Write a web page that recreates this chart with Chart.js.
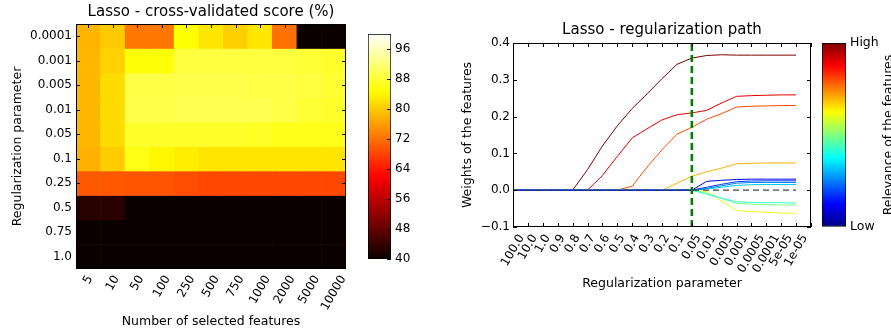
<!DOCTYPE html>
<html>
<head>
<meta charset="utf-8">
<script src="https://cdn.jsdelivr.net/npm/chart.js@4.4.0/dist/chart.umd.min.js"></script>
<style>
  body { margin: 0; background: #fff; }
  #wrap { position: relative; width: 891px; height: 330px; overflow: hidden; }
  #wrap canvas { position: absolute; top: 0; }
</style>
</head>
<body>
<div id="wrap">
  <canvas id="heat" width="350" height="330" style="left:0"></canvas>
  <canvas id="heatBar" width="60" height="330" style="left:360px"></canvas>
  <canvas id="path" width="375" height="330" style="left:440px"></canvas>
  <canvas id="pathBar" width="76" height="330" style="left:815px"></canvas>
</div>
<script>
// left panel: cross-validated score, one array per regularization row
var featureCounts = ['5', '10', '50', '100', '250', '500', '750', '1000', '2000', '5000', '10000'];
var regParams = ['0.0001', '0.001', '0.005', '0.01', '0.05', '0.1', '0.25', '0.5', '0.75', '1.0'];
var scoreAt00001 = [78, 80, 72.5, 72.5, 85, 82.5, 80.5, 82.5, 72, 40, 40];
var scoreAt0001 = [78.3, 80.6, 85.2, 85.2, 88.5, 88.5, 88.5, 88.5, 88.5, 88, 87.5];
var scoreAt0005 = [78.3, 81.6, 89, 89, 89.3, 89.3, 89.3, 89, 89, 88.5, 87.8];
var scoreAt001 = [78.3, 81.6, 89.2, 89.2, 89.5, 89.5, 89.5, 89.5, 89, 88, 87.5];
var scoreAt005 = [78.3, 81.6, 87.2, 87.2, 87.2, 87.2, 87.2, 87, 86.3, 86.3, 86.3];
var scoreAt01 = [77.7, 80.2, 86, 84.1, 83.2, 82.4, 82.4, 82.4, 82.4, 82.4, 82.4];
var scoreAt025 = [69.9, 69.8, 69.5, 69.5, 68.8, 68.3, 68.3, 68.3, 68.3, 68.3, 68.3];
var scoreAt05 = [42.6, 42.6, 40, 40, 40, 40, 40, 40, 40, 40, 40];
var scoreAt075 = [40, 40, 40, 40, 40, 40, 40, 40, 40, 40, 40];
var scoreAt1 = [40, 40, 40, 40, 40, 40, 40, 40, 40, 40, 40];
var scoreRows = [scoreAt00001, scoreAt0001, scoreAt0005, scoreAt001, scoreAt005,
                 scoreAt01, scoreAt025, scoreAt05, scoreAt075, scoreAt1];
var scoreRange = [40, 100];
var scoreTicks = [40, 48, 56, 64, 72, 80, 88, 96];

// right panel: regularization path
var pathLabels = ['100.0', '10.0', '1.0', '0.9', '0.8', '0.7', '0.6', '0.5', '0.4', '0.3',
                  '0.2', '0.1', '0.05', '0.01', '0.005', '0.001', '0.0005', '0.0001', '5e-05', '1e-05'];
var chosenParam = '0.05';
var weightTicks = [-0.1, 0.0, 0.1, 0.2, 0.3, 0.4];
var blueA  = [0, 0, 0, 0, 0, 0, 0, 0, 0, 0, 0, 0, 0, 0.024, 0.027, 0.029, 0.030, 0.030, 0.030, 0.030];
var blueB  = [0, 0, 0, 0, 0, 0, 0, 0, 0, 0, 0, 0, 0, 0.008, 0.016, 0.023, 0.025, 0.0255, 0.0255, 0.0255];
var blueC  = [0, 0, 0, 0, 0, 0, 0, 0, 0, 0, 0, 0, 0, 0.005, 0.012, 0.019, 0.021, 0.021, 0.021, 0.021];
var blueD  = [0, 0, 0, 0, 0, 0, 0, 0, 0, 0, 0, 0, 0, 0.003, 0.008, 0.013, 0.015, 0.0155, 0.0155, 0.0155];
var greenA = [0, 0, 0, 0, 0, 0, 0, 0, 0, 0, 0, 0, 0, -0.011, -0.022, -0.032, -0.033, -0.034, -0.034, -0.035];
var greenB = [0, 0, 0, 0, 0, 0, 0, 0, 0, 0, 0, 0, 0, -0.008, -0.022, -0.036, -0.038, -0.039, -0.040, -0.040];
var yellow = [0, 0, 0, 0, 0, 0, 0, 0, 0, 0, 0, 0, 0, -0.004, -0.030, -0.055, -0.058, -0.060, -0.062, -0.063];
var orange = [0, 0, 0, 0, 0, 0, 0, 0, 0, 0, 0, 0.019, 0.038, 0.050, 0.060, 0.072, 0.073, 0.074, 0.074, 0.074];
var orangeRed = [0, 0, 0, 0, 0, 0, 0, 0, 0.011, 0.063, 0.110, 0.152, 0.171, 0.193, 0.208, 0.226, 0.228, 0.229, 0.230, 0.230];
var red    = [0, 0, 0, 0, 0, 0, 0.040, 0.092, 0.142, 0.167, 0.191, 0.205, 0.210, 0.217, 0.237, 0.255, 0.257, 0.258, 0.259, 0.259];
var darkRed = [0, 0, 0, 0, 0, 0.056, 0.120, 0.175, 0.222, 0.262, 0.303, 0.342, 0.359, 0.366, 0.368, 0.367, 0.367, 0.367, 0.367, 0.367];
var weightSeries = [blueA, blueB, blueC, blueD, greenA, greenB, yellow, orange, orangeRed, red, darkRed];
var relevance = [0.1, 0.18, 0.25, 0.32, 0.42, 0.5, 0.6, 0.7, 0.8, 0.9, 1.0];
var relevanceTicks = ['Low', 'High'];

Chart.defaults.font.family = '"DejaVu Sans", sans-serif';
Chart.defaults.color = '#000';

function clamp(v) { return Math.max(0, Math.min(1, v)); }
function rgb(r, g, b) {
    return 'rgb(' + Math.round(r * 255) + ',' + Math.round(g * 255) + ',' + Math.round(b * 255) + ')';
}
// matplotlib "hot"
function hot(t) {
    t = clamp(t);
    return rgb(0.0416 + 0.9584 * clamp(t / 0.365), clamp((t - 0.365) / 0.381), clamp((t - 0.746) / 0.254));
}
// matplotlib "jet" (close enough)
function jet(t) {
    return rgb(clamp(1.5 - Math.abs(4 * t - 3)), clamp(1.5 - Math.abs(4 * t - 2)), clamp(1.5 - Math.abs(4 * t - 1)));
}
function scoreColor(v) { return hot((v - scoreRange[0]) / (scoreRange[1] - scoreRange[0])); }

// black frame + small inward ticks on all four sides, like matplotlib
var frameTicks = {
    id: 'frameTicks',
    afterDraw: function(chart) {
        var ctx = chart.ctx, a = chart.chartArea, x = chart.scales.x, y = chart.scales.y;
        ctx.save();
        ctx.strokeStyle = '#000';
        ctx.lineWidth = 1;
        ctx.beginPath();
        x.ticks.forEach(function(t, i) {
            var px = Math.round(x.getPixelForTick(i)) + 0.5;
            ctx.moveTo(px, a.bottom); ctx.lineTo(px, a.bottom - 4);
            ctx.moveTo(px, a.top); ctx.lineTo(px, a.top + 4);
        });
        y.ticks.forEach(function(t, i) {
            var py = Math.round(y.getPixelForTick(i)) + 0.5;
            ctx.moveTo(a.left, py); ctx.lineTo(a.left + 4, py);
            ctx.moveTo(a.right, py); ctx.lineTo(a.right - 4, py);
        });
        ctx.stroke();
        ctx.strokeRect(Math.round(a.left) + 0.5, Math.round(a.top) + 0.5,
                       Math.round(a.width) - 1, Math.round(a.height) - 1);
        ctx.restore();
    }
};

// rotated x labels centred under their tick (matplotlib rotation=60, ha='center')
var centredXLabels = {
    id: 'centredXLabels',
    afterDraw: function(chart, args, opts) {
        var ctx = chart.ctx, s = chart.scales.x, a = chart.chartArea;
        var size = 12, ang = Math.PI / 3;
        ctx.save();
        ctx.font = size + 'px "DejaVu Sans"';
        ctx.fillStyle = '#000';
        ctx.textAlign = 'center';
        ctx.textBaseline = 'middle';
        s.ticks.forEach(function(t, i) {
            if (!t.label) return;
            var w = ctx.measureText(t.label).width;
            var boxH = w * Math.sin(ang) + size * 1.164 * Math.cos(ang);
            ctx.save();
            ctx.translate(s.getPixelForTick(i), a.bottom + opts.pad + boxH / 2);
            ctx.rotate(-ang);
            ctx.fillText(t.label, 0, 0);
            ctx.restore();
        });
        ctx.restore();
    }
};

// colorbar ticks pointing into the bar from its right edge
var barTicks = {
    id: 'barTicks',
    afterDraw: function(chart) {
        var ctx = chart.ctx, a = chart.chartArea, y = chart.scales.y;
        ctx.save();
        ctx.strokeStyle = '#000';
        ctx.beginPath();
        y.ticks.forEach(function(t, i) {
            var py = Math.round(y.getPixelForTick(i)) + 0.5;
            ctx.moveTo(a.right, py); ctx.lineTo(a.right - 4, py);
        });
        ctx.stroke();
        ctx.restore();
    }
};

// pin the axis boxes so the plot areas land where the reference has them
function fixWidth(w) {
    return function(scale) { scale.width = w; scale.paddingTop = 0; scale.paddingBottom = 0; };
}
function fixHeight(h) {
    return function(scale) { scale.height = h; scale.paddingLeft = 0; scale.paddingRight = 0; };
}

// ---- heatmap (floating bars, one dataset per row)
var heatSets = scoreRows.map(function(row, r) {
    return {
        data: row.map(function() { return [r, r + 1]; }),
        backgroundColor: row.map(scoreColor),
        borderWidth: 0,
        grouped: false,
        barPercentage: 1,
        categoryPercentage: 1
    };
});

new Chart(document.getElementById('heat'), {
    type: 'bar',
    data: { labels: featureCounts, datasets: heatSets },
    options: {
        responsive: false,
        animation: false,
        layout: { padding: { left: 0, right: 4, top: 0, bottom: 0 } },
        plugins: {
            legend: { display: false },
            tooltip: { enabled: false },
            title: {
                display: true,
                fullSize: false,
                text: 'Lasso - cross-validated score (%)',
                font: { size: 15, weight: 'normal' },
                padding: { top: 3, bottom: 3 }
            },
            centredXLabels: { pad: 4 }
        },
        scales: {
            x: {
                grid: { display: false, drawTicks: false },
                border: { display: false },
                ticks: { display: false },
                title: { display: true, text: 'Number of selected features', font: { size: 12.5 }, padding: { bottom: 1 } },
                afterFit: fixHeight(61)
            },
            y: {
                min: 0,
                max: regParams.length,
                reverse: true,
                grid: { display: false, drawTicks: false },
                border: { display: false },
                afterBuildTicks: function(scale) {
                    scale.ticks = regParams.map(function(p, i) { return { value: i + 0.5 }; });
                },
                ticks: {
                    font: { size: 12 },
                    padding: 4,
                    callback: function(v, i) { return regParams[i]; }
                },
                title: { display: true, text: 'Regularization parameter', font: { size: 12.5 }, padding: { top: 10.5 } },
                afterFit: fixWidth(76)
            }
        }
    },
    plugins: [frameTicks, centredXLabels]
});

// ---- heatmap colorbar
new Chart(document.getElementById('heatBar'), {
    type: 'bar',
    data: {
        labels: [''],
        datasets: [{
            data: [scoreRange],
            backgroundColor: function(c) {
                var a = c.chart.chartArea;
                if (!a) return '#000';
                var g = c.chart.ctx.createLinearGradient(0, a.bottom, 0, a.top);
                for (var i = 0; i <= 40; i++) g.addColorStop(i / 40, hot(i / 40));
                return g;
            },
            borderColor: '#000',
            borderWidth: 1,
            borderSkipped: false,
            barPercentage: 1,
            categoryPercentage: 1
        }]
    },
    options: {
        responsive: false,
        animation: false,
        layout: { padding: { left: 8, right: 0, top: 34, bottom: 71 } },
        plugins: { legend: { display: false }, tooltip: { enabled: false } },
        scales: {
            x: { display: false },
            y: {
                position: 'right',
                min: scoreRange[0],
                max: scoreRange[1],
                afterBuildTicks: function(scale) {
                    scale.ticks = scoreTicks.map(function(v) { return { value: v }; });
                },
                grid: { drawOnChartArea: false, drawTicks: false },
                border: { display: false },
                ticks: { font: { size: 12 }, padding: 4 },
                afterFit: fixWidth(29)
            }
        }
    },
    plugins: [barTicks]
});

// ---- regularization path
var pathSets = [
    {
        data: [{ x: chosenParam, y: weightTicks[0] }, { x: chosenParam, y: weightTicks[weightTicks.length - 1] }],
        borderColor: '#008000', borderWidth: 2.5, borderDash: [7, 4]
    },
    {
        data: [{ x: pathLabels[0], y: 0 }, { x: pathLabels[pathLabels.length - 1], y: 0 }],
        borderColor: '#444', borderWidth: 1.3, borderDash: [6, 4]
    }
].concat(weightSeries.map(function(s, i) {
    return { data: s, borderColor: jet(relevance[i]), borderWidth: 1 };
}));

new Chart(document.getElementById('path'), {
    type: 'line',
    data: { labels: pathLabels.concat(''), datasets: pathSets },
    options: {
        responsive: false,
        animation: false,
        elements: { point: { radius: 0 }, line: { tension: 0, fill: false } },
        layout: { padding: { left: 0, right: 4, top: 17.5, bottom: 0 } },
        plugins: {
            legend: { display: false },
            tooltip: { enabled: false },
            title: {
                display: true,
                fullSize: false,
                text: 'Lasso - regularization path',
                font: { size: 15, weight: 'normal' },
                padding: { top: 4, bottom: 3.5 }
            },
            centredXLabels: { pad: 5 }
        },
        scales: {
            x: {
                offset: false,
                grid: { display: false, drawTicks: false },
                border: { display: false },
                ticks: { display: false, autoSkip: false },
                title: { display: true, text: 'Regularization parameter', font: { size: 12.5 }, padding: { bottom: 38.5 } },
                afterFit: fixHeight(103)
            },
            y: {
                min: weightTicks[0],
                max: weightTicks[weightTicks.length - 1],
                grid: { display: false, drawTicks: false },
                border: { display: false },
                afterBuildTicks: function(scale) {
                    scale.ticks = weightTicks.map(function(v) { return { value: v }; });
                },
                ticks: {
                    font: { size: 12 },
                    padding: 3,
                    callback: function(v) { return v.toFixed(1).replace('-', '\u2212'); }
                },
                title: { display: true, text: 'Weights of the features', font: { size: 12.5 }, padding: { top: 20.5 } },
                afterFit: fixWidth(73)
            }
        }
    },
    plugins: [frameTicks, centredXLabels]
});

// ---- relevance colorbar
var sideLabel = {
    id: 'sideLabel',
    afterDraw: function(chart) {
        var ctx = chart.ctx, a = chart.chartArea;
        ctx.save();
        ctx.translate(74, (a.top + a.bottom) / 2);
        ctx.rotate(-Math.PI / 2);
        ctx.font = '12.5px "DejaVu Sans"';
        ctx.textAlign = 'center';
        ctx.textBaseline = 'middle';
        ctx.fillStyle = '#000';
        ctx.fillText('Relevance of the features', 0, 0);
        ctx.restore();
    }
};

new Chart(document.getElementById('pathBar'), {
    type: 'bar',
    data: {
        labels: [''],
        datasets: [{
            data: [[0, 1]],
            backgroundColor: function(c) {
                var a = c.chart.chartArea;
                if (!a) return '#000';
                var g = c.chart.ctx.createLinearGradient(0, a.bottom, 0, a.top);
                for (var i = 0; i <= 50; i++) g.addColorStop(i / 50, jet(i / 50));
                return g;
            },
            borderColor: '#000',
            borderWidth: 1,
            borderSkipped: false,
            barPercentage: 1,
            categoryPercentage: 1
        }]
    },
    options: {
        responsive: false,
        animation: false,
        layout: { padding: { left: 7, right: 0, top: 43, bottom: 103 } },
        plugins: { legend: { display: false }, tooltip: { enabled: false } },
        scales: {
            x: { display: false },
            y: {
                position: 'right',
                min: 0,
                max: 1,
                afterBuildTicks: function(scale) {
                    scale.ticks = relevanceTicks.map(function(t, i) { return { value: i }; });
                },
                grid: { drawOnChartArea: false, drawTicks: false },
                border: { display: false },
                ticks: { font: { size: 12.5 }, padding: 4, callback: function(v, i) { return relevanceTicks[i]; } },
                afterFit: fixWidth(45)
            }
        }
    },
    plugins: [sideLabel]
});
</script>
</body>
</html>
